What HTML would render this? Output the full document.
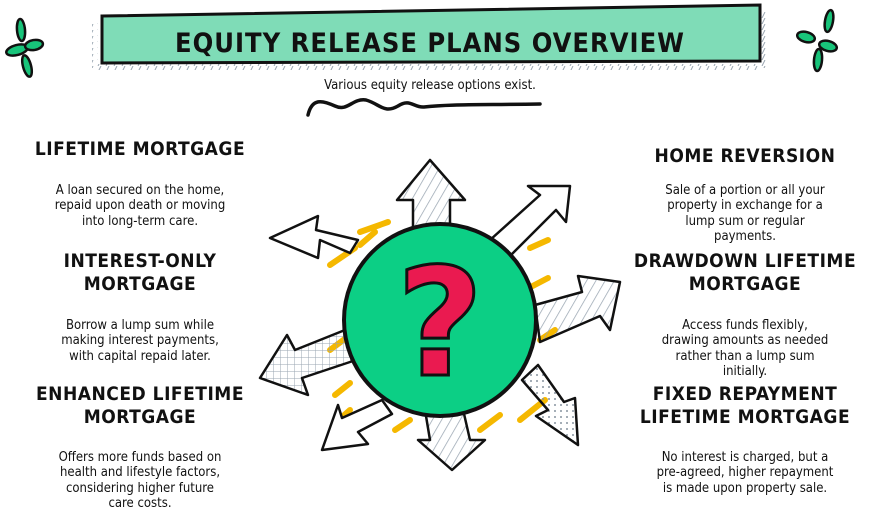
<!DOCTYPE html>
<html><head><meta charset="utf-8"><style>
body{margin:0;width:880px;height:516px;background:#fff;overflow:hidden;position:relative;font-family:"Liberation Sans",sans-serif;color:#111}
.h{position:absolute;width:300px;text-align:center;font-size:19px;letter-spacing:0.5px;line-height:23px;font-family:"DejaVu Sans Condensed","DejaVu Sans",sans-serif;font-weight:bold}
.d{position:absolute;width:300px;text-align:center;font-size:13px;line-height:15.3px;font-family:"DejaVu Sans Condensed","Liberation Sans",sans-serif}
</style></head><body>
<svg width="880" height="516" style="position:absolute;left:0;top:0">
<defs>
<pattern id="hatch" width="8" height="8" patternUnits="userSpaceOnUse" patternTransform="rotate(30)"><line x1="0" y1="0" x2="0" y2="8" stroke="#9aa6b2" stroke-width="1.5"/></pattern>
<pattern id="grid" width="7" height="7" patternUnits="userSpaceOnUse"><path d="M0 0H7M0 0V7" stroke="#9aa6b2" stroke-width="1"/></pattern>
<pattern id="dots" width="6" height="6" patternUnits="userSpaceOnUse"><circle cx="3" cy="3" r="1" fill="#8894a0"/></pattern>
<pattern id="tick" width="8" height="6" patternUnits="userSpaceOnUse"><line x1="5" y1="0" x2="2" y2="6" stroke="#9aa6b2" stroke-width="1"/></pattern>
</defs>
<rect x="98" y="64" width="662" height="6" fill="url(#tick)"/>
<rect x="92" y="22" width="6" height="46" fill="url(#tick)"/>
<rect x="760" y="12" width="6" height="56" fill="url(#tick)"/>
<polygon points="102,16 760,5 760,61 102,63" fill="#7fdcb7" stroke="#111" stroke-width="3"/>
<text x="430" y="52" text-anchor="middle" font-family="DejaVu Sans Condensed,DejaVu Sans,sans-serif" font-weight="bold" font-size="27" fill="#111" letter-spacing="1">EQUITY RELEASE PLANS OVERVIEW</text>
<g fill="#18c47a" stroke="#111" stroke-width="2.5">
<ellipse cx="21" cy="30" rx="4" ry="11" transform="rotate(-5 21 30)"/>
<ellipse cx="17" cy="50" rx="11" ry="5" transform="rotate(-15 17 50)"/>
<ellipse cx="34" cy="45" rx="9" ry="5" transform="rotate(-10 34 45)"/>
<ellipse cx="27" cy="66" rx="4" ry="11" transform="rotate(-15 27 66)"/>
<ellipse cx="829" cy="21" rx="4" ry="11" transform="rotate(10 829 21)"/>
<ellipse cx="806" cy="37" rx="9" ry="5" transform="rotate(15 806 37)"/>
<ellipse cx="828" cy="46" rx="9" ry="5" transform="rotate(15 828 46)"/>
<ellipse cx="818" cy="60" rx="4" ry="11" transform="rotate(5 818 60)"/>
</g>
<path d="M308 115 C312 98 322 100 335 106 C348 112 352 98 366 100 C380 104 384 114 398 106 C410 98 414 108 424 107 C450 104 480 105 540 104" fill="none" stroke="#111" stroke-width="3.5" stroke-linecap="round"/>
<g stroke="#f5b800" stroke-width="6" stroke-linecap="round">
<line x1="360" y1="232" x2="388" y2="222"/><line x1="330" y1="265" x2="355" y2="248"/>
<line x1="530" y1="248" x2="548" y2="240"/><line x1="525" y1="290" x2="548" y2="278"/>
<line x1="540" y1="340" x2="555" y2="330"/><line x1="335" y1="395" x2="350" y2="383"/>
<line x1="333" y1="425" x2="350" y2="410"/><line x1="395" y1="430" x2="410" y2="420"/>
<line x1="480" y1="430" x2="500" y2="415"/><line x1="520" y1="420" x2="545" y2="400"/>
<line x1="350" y1="335" x2="330" y2="350"/><line x1="375" y1="232" x2="360" y2="245"/>
</g>
<g stroke="#111" stroke-width="2.5" stroke-linejoin="round">
<polygon points="413,235 413,200 397,200 430,160 465,200 450,200 450,235" fill="url(#hatch)"/>
<polygon points="490,240 540,195 528,186 570,186 566,222 556,210 508,258" fill="#fff"/>
<polygon points="535,305 582,292 578,276 620,282 610,330 600,316 540,342" fill="url(#hatch)"/>
<polygon points="350,245 320,232 318,250 270,230 318,208 316,222 358,232" fill="#fff" transform="translate(0,8)"/>
<polygon points="350,328 295,350 287,335 260,378 308,395 302,378 356,360" fill="url(#grid)"/>
<polygon points="522,380 548,410 536,416 578,445 575,398 564,402 538,365" fill="url(#dots)"/>
<polygon points="425,410 430,440 418,440 452,470 485,440 470,440 462,405" fill="url(#hatch)"/>
<polygon points="382,400 342,418 338,405 322,450 368,444 358,432 392,414" fill="#fff"/>
</g>
<circle cx="440" cy="320" r="96" fill="#0ccf85" stroke="#111" stroke-width="4"/>
<text x="440" y="375" text-anchor="middle" font-family="DejaVu Sans,sans-serif" font-weight="bold" font-size="150" fill="#ea1a50" stroke="#111" stroke-width="3">?</text>
</svg>
<div style="position:absolute;left:250px;top:78px;width:360px;text-align:center;font-size:13px;font-family:'DejaVu Sans Condensed',sans-serif">Various equity release options exist.</div>
<div class="h" style="left:-10px;top:138px">LIFETIME MORTGAGE</div>
<div class="d" style="left:-10px;top:183px">A loan secured on the home,<br>repaid upon death or moving<br>into long-term care.</div>
<div class="h" style="left:-10px;top:250px">INTEREST-ONLY<br>MORTGAGE</div>
<div class="d" style="left:-10px;top:318px">Borrow a lump sum while<br>making interest payments,<br>with capital repaid later.</div>
<div class="h" style="left:-10px;top:383px">ENHANCED LIFETIME<br>MORTGAGE</div>
<div class="d" style="left:-10px;top:450px">Offers more funds based on<br>health and lifestyle factors,<br>considering higher future<br>care costs.</div>
<div class="h" style="left:595px;top:145px">HOME REVERSION</div>
<div class="d" style="left:595px;top:183px">Sale of a portion or all your<br>property in exchange for a<br>lump sum or regular<br>payments.</div>
<div class="h" style="left:595px;top:250px">DRAWDOWN LIFETIME<br>MORTGAGE</div>
<div class="d" style="left:595px;top:318px">Access funds flexibly,<br>drawing amounts as needed<br>rather than a lump sum<br>initially.</div>
<div class="h" style="left:595px;top:383px">FIXED REPAYMENT<br>LIFETIME MORTGAGE</div>
<div class="d" style="left:595px;top:450px">No interest is charged, but a<br>pre-agreed, higher repayment<br>is made upon property sale.</div>
</body></html>
